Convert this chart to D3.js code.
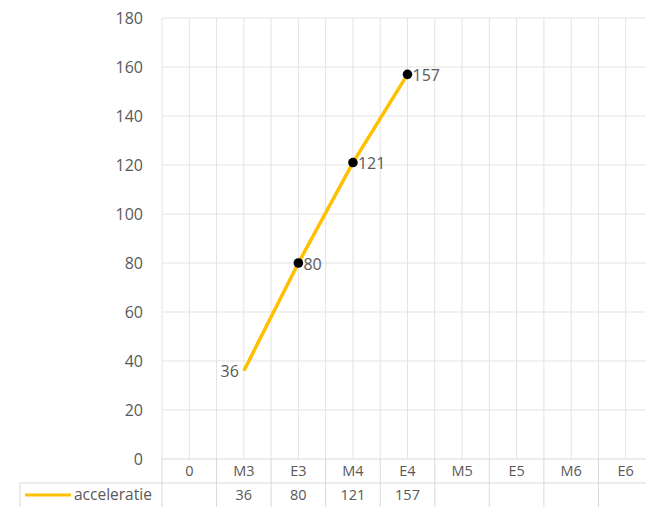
<!DOCTYPE html>
<html>
<head>
<meta charset="utf-8">
<script src="https://cdn.jsdelivr.net/npm/d3@7"></script>
<style>
  html, body { margin: 0; padding: 0; background: #fff; }
  svg { display: block; }
  text { font-family: "Open Sans", "Liberation Sans", sans-serif; fill: #595959; }
</style>
</head>
<body>
<svg id="chart" width="646" height="507"></svg>
<script>
// Chart data
const categories = ["0", "M3", "E3", "M4", "E4", "M5", "E5", "M6", "E6"];
const acceleratie = [null, 36, 80, 121, 157, null, null, null, null];
const seriesName = "acceleratie";
const yTicks = [0, 20, 40, 60, 80, 100, 120, 140, 160, 180];

const W = 646, H = 507;
const plot = { left: 162, right: 653, top: 18, bottom: 459 };
const rowH = 24;
const tableLeft = 20;

const svg = d3.select("#chart");

const x = d3.scaleBand().domain(categories).range([plot.left, plot.right]).padding(0);
const y = d3.scaleLinear().domain([0, 180]).range([plot.bottom, plot.top]);

const gridColor = "#e3e3e3";
const borderColor = "#d9d9d9";

// horizontal gridlines
svg.append("g").selectAll("line").data(yTicks.slice(1)).join("line")
  .attr("x1", plot.left).attr("x2", W)
  .attr("y1", d => y(d)).attr("y2", d => y(d))
  .attr("stroke", gridColor).attr("stroke-width", 1);

// vertical gridlines at category centres and boundaries
const vLines = [];
categories.forEach(c => {
  vLines.push(x(c));
  vLines.push(x(c) + x.bandwidth() / 2);
});
vLines.push(x(categories[categories.length - 1]) + x.bandwidth());
svg.append("g").selectAll("line").data(vLines).join("line")
  .attr("x1", d => d).attr("x2", d => d)
  .attr("y1", plot.top).attr("y2", plot.bottom)
  .attr("stroke", gridColor).attr("stroke-width", 1);

// y axis labels
const yAxis = d3.axisLeft(y).tickValues(yTicks).tickSize(0).tickPadding(19);
const gy = svg.append("g").attr("transform", `translate(${plot.left},0)`).call(yAxis);
gy.select(".domain").remove();
gy.selectAll("text").style("font-size", "16px").style("font-family", "\"Open Sans\", sans-serif").attr("fill", "#595959");

// data table: header row (categories) and series row
const boundaries = categories.map(c => x(c)).concat([x(categories[categories.length - 1]) + x.bandwidth()]);
const tbl = svg.append("g");
// horizontal borders
tbl.append("line").attr("x1", plot.left).attr("x2", W).attr("y1", plot.bottom).attr("y2", plot.bottom)
  .attr("stroke", borderColor);
tbl.append("line").attr("x1", tableLeft).attr("x2", W).attr("y1", plot.bottom + rowH).attr("y2", plot.bottom + rowH)
  .attr("stroke", borderColor);
// vertical borders
tbl.selectAll("line.vb").data(boundaries).join("line").attr("class", "vb")
  .attr("x1", d => d).attr("x2", d => d)
  .attr("y1", plot.bottom).attr("y2", H)
  .attr("stroke", borderColor);
tbl.append("line").attr("x1", tableLeft).attr("x2", tableLeft)
  .attr("y1", plot.bottom + rowH).attr("y2", H).attr("stroke", borderColor);

// category labels
tbl.selectAll("text.cat").data(categories).join("text").attr("class", "cat")
  .attr("x", d => x(d) + x.bandwidth() / 2)
  .attr("y", plot.bottom + rowH / 2)
  .attr("dy", "0.35em").attr("text-anchor", "middle")
  .style("font-size", "14.5px").text(d => d);

// series values
tbl.selectAll("text.val").data(categories.map((c, i) => ({ c, v: acceleratie[i] })).filter(d => d.v != null))
  .join("text").attr("class", "val")
  .attr("x", d => x(d.c) + x.bandwidth() / 2)
  .attr("y", plot.bottom + rowH * 1.5)
  .attr("dy", "0.35em").attr("text-anchor", "middle")
  .style("font-size", "14.5px").text(d => d.v);

// legend key in the table
tbl.append("line").attr("x1", 25).attr("x2", 71)
  .attr("y1", plot.bottom + rowH * 1.5).attr("y2", plot.bottom + rowH * 1.5)
  .attr("stroke", "#FFC000").attr("stroke-width", 3);
tbl.append("text").attr("x", 74).attr("y", plot.bottom + rowH * 1.5)
  .attr("dy", "0.35em").style("font-size", "15.5px").text(seriesName);

// the line
const pts = categories.map((c, i) => ({ c, v: acceleratie[i] })).filter(d => d.v != null);
const cx = d => x(d.c) + x.bandwidth() / 2;
const line = d3.line().x(cx).y(d => y(d.v));
svg.append("path").datum(pts).attr("d", line)
  .attr("fill", "none").attr("stroke", "#FFC000").attr("stroke-width", 3.5);

// markers (first point shown without marker)
svg.selectAll("circle.m").data(pts.slice(1)).join("circle").attr("class", "m")
  .attr("cx", cx).attr("cy", d => y(d.v)).attr("r", 4.8).attr("fill", "#000");

// value labels
svg.selectAll("text.lbl").data(pts).join("text").attr("class", "lbl")
  .attr("x", (d, i) => i === 0 ? cx(d) - 5 : cx(d) + 5)
  .attr("y", d => y(d.v) + 1)
  .attr("dy", "0.35em")
  .attr("text-anchor", (d, i) => i === 0 ? "end" : "start")
  .style("font-size", "16px").attr("fill", "#404040")
  .text(d => d.v);
</script>
</body>
</html>
